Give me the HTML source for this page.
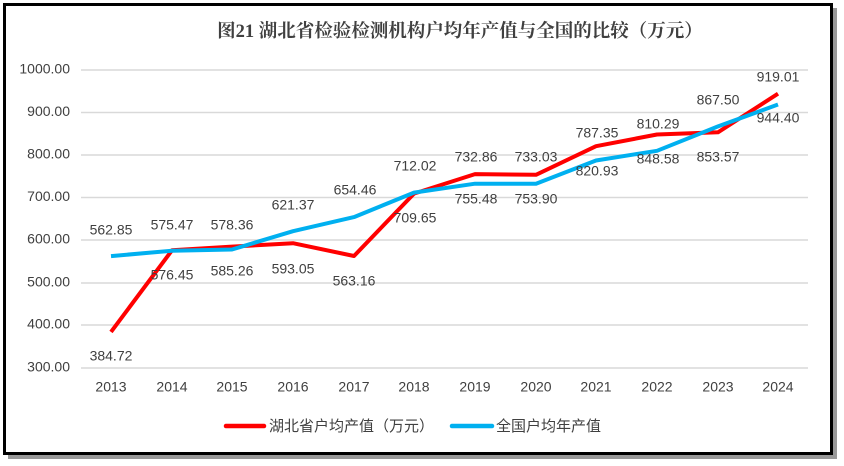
<!DOCTYPE html>
<html><head><meta charset="utf-8"><style>
body{margin:0;width:844px;height:466px;background:#fff;overflow:hidden}
svg{display:block}
text{font-family:"Liberation Sans","Noto Sans CJK SC",sans-serif;fill:#404040}
</style></head><body>
<svg width="844" height="466" viewBox="0 0 844 466">
<rect x="8" y="8" width="829" height="451" fill="#999"/>
<rect x="4.5" y="4.5" width="827" height="449" fill="#fff" stroke="#000" stroke-width="3"/>
<text x="460" y="37" text-anchor="middle" font-size="18.5" font-weight="bold" style="font-family:'Liberation Serif','Noto Serif CJK SC',serif">图21  湖北省检验检测机构户均年产值与全国的比较（万元）</text>
<g stroke="#d9d9d9" stroke-width="1.5">
<line x1="81" x2="808" y1="70" y2="70"/><line x1="81" x2="808" y1="112.5" y2="112.5"/>
<line x1="81" x2="808" y1="155" y2="155"/><line x1="81" x2="808" y1="197.5" y2="197.5"/>
<line x1="81" x2="808" y1="240" y2="240"/><line x1="81" x2="808" y1="283" y2="283"/>
<line x1="81" x2="808" y1="325" y2="325"/><line x1="81" x2="808" y1="368" y2="368"/>
</g>
<g font-size="14" text-anchor="end" dominant-baseline="middle">
<text x="70" y="70">1000.00</text><text x="70" y="112.5">900.00</text><text x="70" y="155">800.00</text>
<text x="70" y="197.5">700.00</text><text x="70" y="240">600.00</text><text x="70" y="283">500.00</text>
<text x="70" y="325">400.00</text><text x="70" y="368">300.00</text>
</g>
<g font-size="14" text-anchor="middle" dominant-baseline="middle">
<text x="111" y="388">2013</text><text x="172" y="388">2014</text><text x="232" y="388">2015</text>
<text x="293" y="388">2016</text><text x="354" y="388">2017</text><text x="414" y="388">2018</text>
<text x="475" y="388">2019</text><text x="536" y="388">2020</text><text x="596" y="388">2021</text>
<text x="657" y="388">2022</text><text x="718" y="388">2023</text><text x="778" y="388">2024</text>
</g>
<polyline fill="none" stroke="#ff0000" stroke-width="4" stroke-linejoin="round" points="111,331.9 172,250.3 232,246.6 293,243.2 354,256 414,193.6 475,174.1 536,174.8 596,146.2 657,134.5 718,132.3 778,93.7"/>
<polyline fill="none" stroke="#00b0f0" stroke-width="4" stroke-linejoin="round" points="111,256.1 172,250.7 232,249.5 293,231.2 354,217.1 414,192.6 475,183.7 536,183.7 596,160.5 657,150.8 718,126.4 778,104.5"/>
<g font-size="14" text-anchor="middle" dominant-baseline="middle">
<text x="111" y="231">562.85</text><text x="172" y="226">575.47</text><text x="232" y="226">578.36</text>
<text x="293" y="206">621.37</text><text x="355" y="191">654.46</text><text x="415" y="167">712.02</text>
<text x="476" y="158">732.86</text><text x="536" y="158">733.03</text><text x="597" y="134">787.35</text>
<text x="658" y="125">810.29</text><text x="718" y="101">867.50</text><text x="778" y="78">919.01</text>
<text x="111" y="357">384.72</text><text x="172" y="276">576.45</text><text x="232" y="272">585.26</text>
<text x="293" y="270">593.05</text><text x="354" y="282">563.16</text><text x="415" y="219">709.65</text>
<text x="476" y="200">755.48</text><text x="536" y="200">753.90</text><text x="597" y="172">820.93</text>
<text x="658" y="160">848.58</text><text x="718" y="158">853.57</text><text x="778" y="119">944.40</text>
</g>
<line x1="226" x2="264" y1="426" y2="426" stroke="#ff0000" stroke-width="4.5" stroke-linecap="round"/>
<text x="269" y="431" font-size="15">湖北省户均产值（万元）</text>
<line x1="452" x2="492" y1="426" y2="426" stroke="#00b0f0" stroke-width="4.5" stroke-linecap="round"/>
<text x="496" y="431" font-size="15">全国户均年产值</text>
</svg>
</body></html>
